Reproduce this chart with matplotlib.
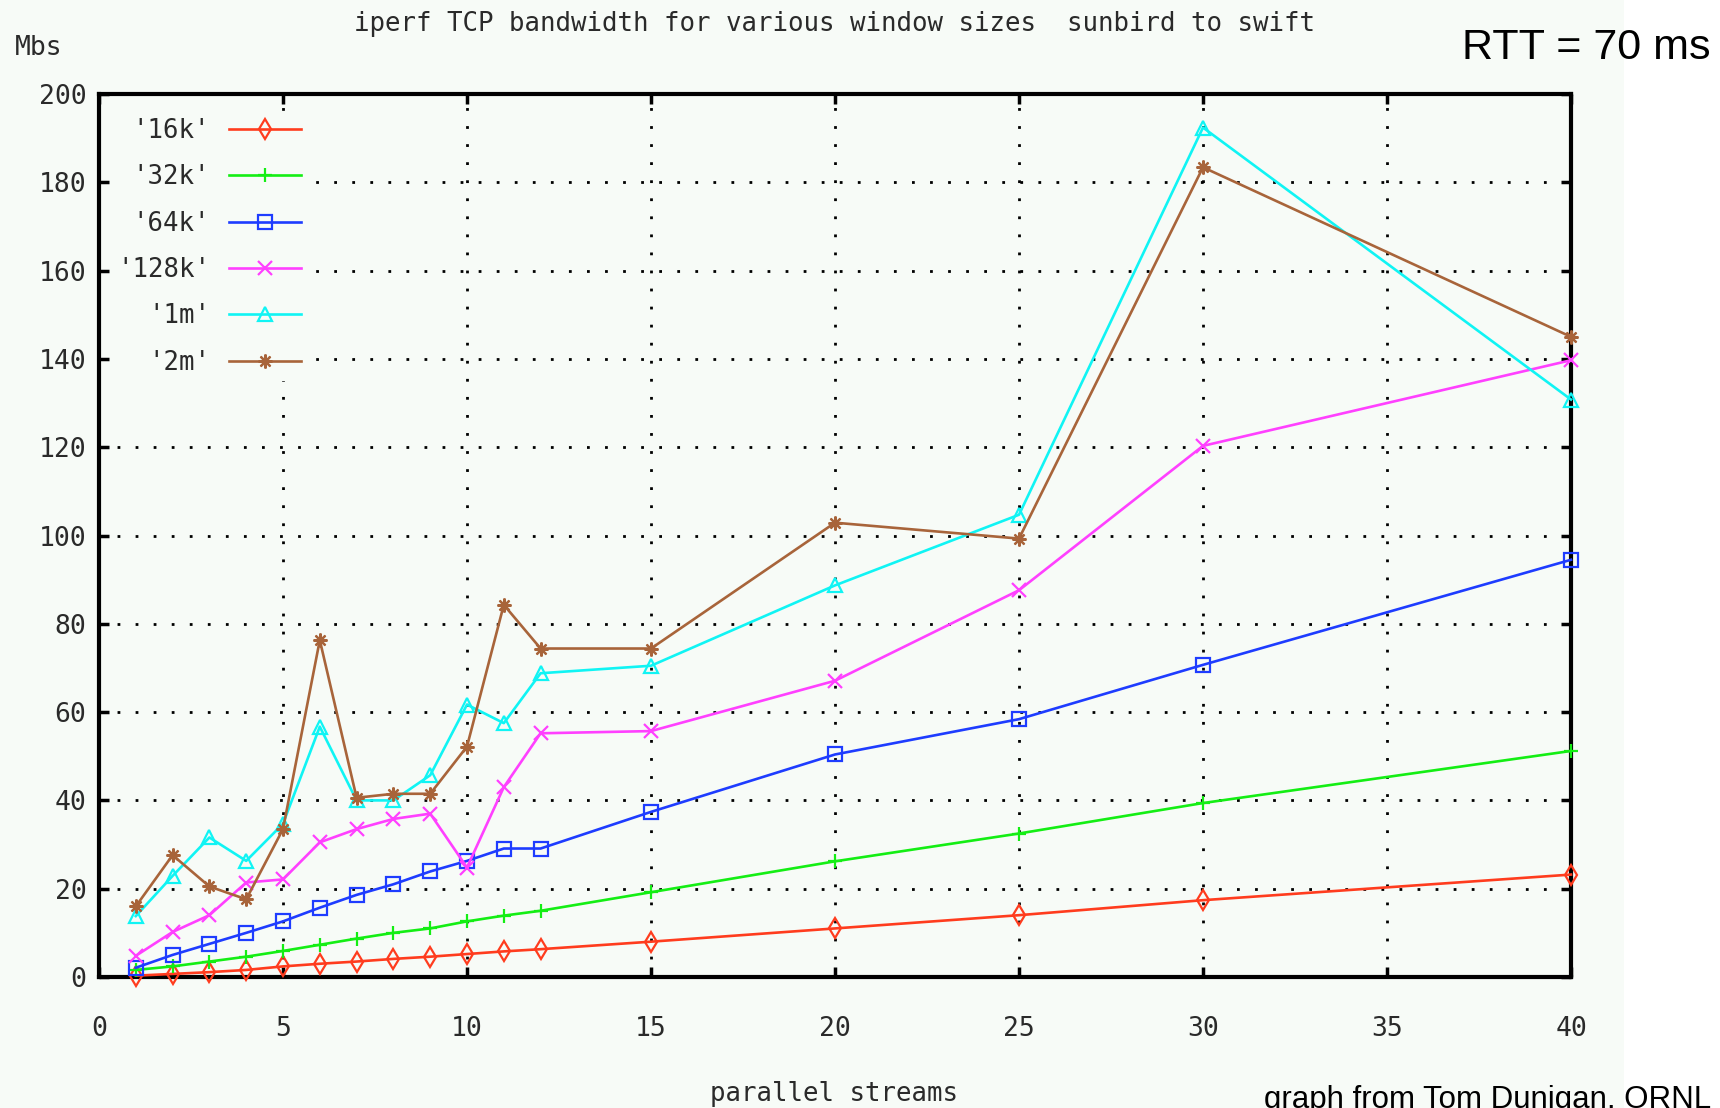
import matplotlib.pyplot as plt
import matplotlib.patches as mpatches

# parallel stream counts tested
streams = [1, 2, 3, 4, 5, 6, 7, 8, 9, 10, 11, 12, 15, 20, 25, 30, 40]

# bandwidth in Mbs per TCP window size
bw_16k = [0.3, 0.7, 1.1, 1.6, 2.4, 3.0, 3.5, 4.1, 4.6, 5.2, 5.8, 6.3, 8.0, 11.0, 14.0, 17.4, 23.2]
bw_32k = [1.6, 2.4, 3.5, 4.6, 5.9, 7.3, 8.7, 10.0, 11.0, 12.6, 13.9, 15.0, 19.2, 26.2, 32.5, 39.4, 51.2]
bw_64k = [2.1, 5.0, 7.5, 10.0, 12.6, 15.7, 18.6, 21.0, 23.9, 26.3, 29.1, 29.1, 37.4, 50.4, 58.4, 70.7, 94.5]
bw_128k = [4.8, 10.2, 14.0, 21.4, 22.1, 30.5, 33.5, 35.8, 37.0, 24.8, 43.0, 55.2, 55.7, 67.1, 87.6, 120.3, 139.7]
bw_1m = [13.8, 22.9, 31.6, 26.3, 34.7, 56.7, 40.0, 40.0, 45.7, 61.7, 57.5, 68.8, 70.5, 88.7, 104.7, 192.4, 130.8]
bw_2m = [16.0, 27.6, 20.5, 17.6, 33.5, 76.3, 40.6, 41.5, 41.5, 52.2, 84.3, 74.4, 74.4, 102.9, 99.3, 183.4, 145.0]

labels = ["'16k'", "'32k'", "'64k'", "'128k'", "'1m'", "'2m'"]
colors = ['#ff3c1e', '#14ee14', '#1e3cff', '#ff40ff', '#10f4f4', '#a8643a']
markers = ['d', '+', 's', 'x', '^', (8, 2, 0)]

bg = '#f7fbf7'
ink = '#2a2a2a'
mono = 'DejaVu Sans Mono'

fig = plt.figure(figsize=(17.2, 11.08), dpi=100, facecolor='white')
fig.patches.append(mpatches.Rectangle((0, 0), 1624 / 1720, 1, transform=fig.transFigure,
                                      facecolor=bg, edgecolor='none', zorder=-10))

ax = fig.add_axes([99 / 1720, 1 - 977 / 1108, 1472 / 1720, 883 / 1108])
ax.set_facecolor(bg)

series = [bw_16k, bw_32k, bw_64k, bw_128k, bw_1m, bw_2m]
for ys, lab, c, m in zip(series, labels, colors, markers):
    ax.plot(streams, ys, color=c, lw=1.9, marker=m, ms=10, mew=1.6,
            markerfacecolor='none', label=lab, clip_on=False, zorder=3)

ax.set_xlim(0, 40)
ax.set_ylim(0, 200)
ax.set_xticks(range(0, 41, 5))
ax.set_yticks(range(0, 201, 20))
ax.grid(True, color='black', lw=2, linestyle=(0, (1, 5.5)), dash_capstyle='butt')
ax.tick_params(direction='in', length=7, width=2.5, top=True, right=True,
               labelsize=19, pad=9, labelcolor=ink)
ax.tick_params(axis='x', pad=28)
for lbl in ax.get_xticklabels() + ax.get_yticklabels():
    lbl.set_family(mono)
for sp in ax.spines.values():
    sp.set_linewidth(3)

leg = ax.legend(loc='upper left', bbox_to_anchor=(0.0, 0.993), markerfirst=False,
                prop={'family': mono, 'size': 18.5}, handlelength=2.8, handletextpad=0.75,
                labelspacing=0.79, frameon=True, facecolor=bg, edgecolor='none',
                framealpha=1, borderpad=0.2, fancybox=False)
leg.set_zorder(4)
for t in leg.get_texts():
    t.set_color(ink)

fig.text(834 / 1720, 1 - 24 / 1108, 'iperf TCP bandwidth for various window sizes  sunbird to swift',
         ha='center', va='center', family=mono, fontsize=18.5, color=ink)
fig.text(39 / 1720, 1 - 48 / 1108, 'Mbs', ha='center', va='center', family=mono,
         fontsize=19, color=ink)
fig.text(834 / 1720, 1 - 1094 / 1108, 'parallel streams', ha='center', va='center',
         family=mono, fontsize=18.5, color=ink)
fig.text(1711 / 1720, 1 - 48 / 1108, 'RTT = 70 ms', ha='right', va='center',
         family='Liberation Sans', fontsize=31, color='black')
fig.text(1711 / 1720, 0.0, 'graph from Tom Dunigan, ORNL', ha='right', va='baseline',
         family='Liberation Sans', fontsize=22.5, color='black')

fig.savefig('out.png', dpi=100, facecolor='white')
